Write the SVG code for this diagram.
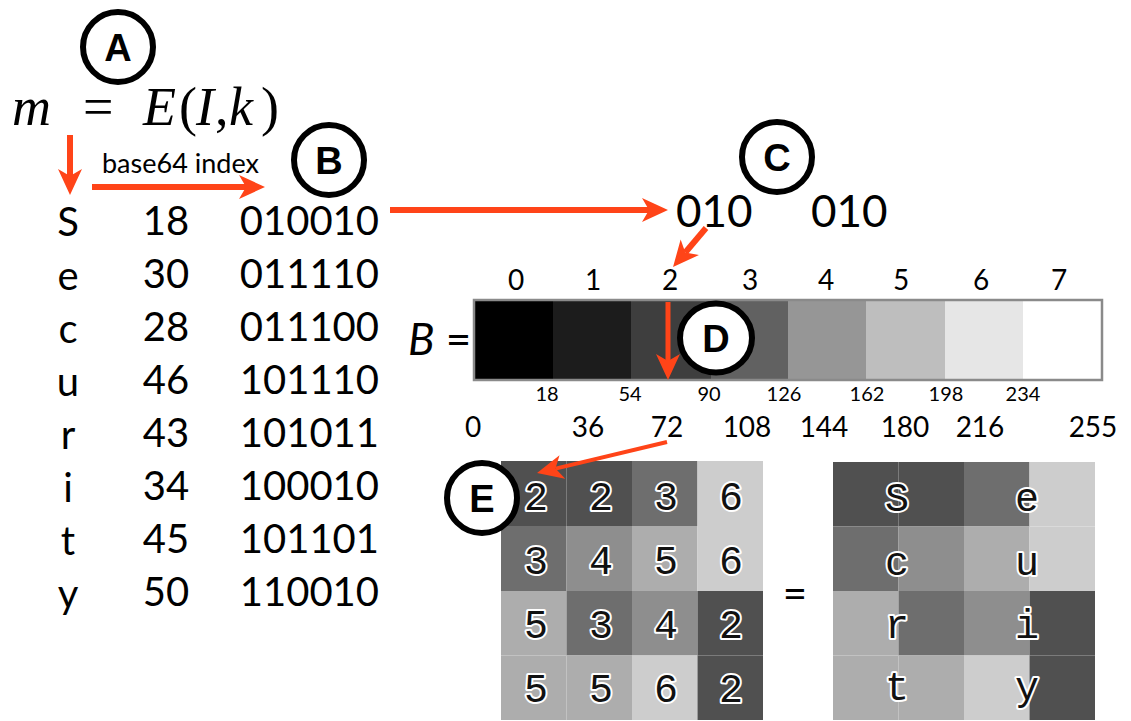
<svg xmlns="http://www.w3.org/2000/svg" width="1131" height="721" viewBox="0 0 1131 721">
  <style>
    .gs { font-family: Lato, "Liberation Sans", sans-serif; fill: #000; }
    .tbl { font-size: 40px; }
    .bits { font-size: 40px; text-anchor: end; }
    .idx { font-size: 28px; text-anchor: middle; }
    .sm { font-size: 20px; text-anchor: middle; }
    .math { font-family: "Liberation Serif", "Times New Roman", serif; font-size: 54px; fill: #000; }
    .it { font-style: italic; }
    .mono { font-family: "Liberation Mono", "Courier New", monospace; font-size: 40px; fill: #111; stroke: #fff; stroke-width: 4px; paint-order: stroke; stroke-linejoin: round; text-anchor: middle; }
    .ring { fill: #fff; stroke: #000; stroke-width: 6px; }
    .tag { font-family: "Liberation Sans", Arial, sans-serif; font-weight: bold; font-size: 38px; text-anchor: middle; fill: #000; }
    .arrow { stroke: #ff4418; fill: none; marker-end: url(#head); }
    .g2 { fill: #505050; } .g3 { fill: #6e6e6e; } .g4 { fill: #8e8e8e; } .g5 { fill: #adadad; } .g6 { fill: #cdcdcd; }
  </style>
  <defs>
    <marker id="head" viewBox="0 0 26 26" refX="7" refY="13" markerWidth="26" markerHeight="26" markerUnits="userSpaceOnUse" orient="auto">
      <path d="M0,1 L26,13 L0,25 L7,13 z" fill="#ff4418"/>
    </marker>
  </defs>
  <rect width="1131" height="721" fill="#fff"/>

  <!-- m = E(I, k) -->
  <g id="formula">
    <text class="math" y="125"><tspan class="it" x="12">m</tspan><tspan x="83">=</tspan><tspan class="it" x="143">E</tspan><tspan x="179">(</tspan><tspan class="it" x="196">I</tspan><tspan x="215">,</tspan><tspan class="it" x="229">k</tspan><tspan x="261">)</tspan></text>
  </g>

  <!-- plaintext letters, base64 indices, 6-bit codes -->
  <g id="table" class="gs">
    <g id="letters" class="tbl" text-anchor="middle">
      <text x="68" y="236">S</text>
      <text x="68" y="290">e</text>
      <text x="68" y="343">c</text>
      <text x="68" y="396">u</text>
      <text x="68" y="449">r</text>
      <text x="68" y="502">i</text>
      <text x="68" y="555">t</text>
      <text x="68" y="608">y</text>
    </g>
    <g id="indices" class="tbl" text-anchor="middle">
      <text x="166" y="235">18</text>
      <text x="166" y="288">30</text>
      <text x="166" y="341">28</text>
      <text x="166" y="394">46</text>
      <text x="166" y="447">43</text>
      <text x="166" y="500">34</text>
      <text x="166" y="553">45</text>
      <text x="166" y="606">50</text>
    </g>
    <g id="codes" class="bits">
      <text x="379" y="235">010010</text>
      <text x="379" y="288">011110</text>
      <text x="379" y="341">011100</text>
      <text x="379" y="394">101110</text>
      <text x="379" y="447">101011</text>
      <text x="379" y="500">100010</text>
      <text x="379" y="553">101101</text>
      <text x="379" y="606">110010</text>
    </g>
    <text x="102" y="173" font-size="27">base64 index</text>
  </g>

  <!-- code split into 3-bit groups -->
  <g id="split" class="gs" font-size="44">
    <text x="676" y="227">010</text>
    <text x="811" y="227">010</text>
  </g>

  <!-- palette B -->
  <g id="palette">
    <text class="gs" x="408" y="355" font-size="44"><tspan font-style="italic">B</tspan> =</text>
    <rect x="474" y="300" width="79" height="80" fill="#000"/>
    <rect x="553" y="300" width="78" height="80" fill="#1c1c1c"/>
    <rect x="631" y="300" width="80" height="80" fill="#3e3e3e"/>
    <rect x="711" y="300" width="77" height="80" fill="#616161"/>
    <rect x="788" y="300" width="78" height="80" fill="#969696"/>
    <rect x="866" y="300" width="79" height="80" fill="#bebebe"/>
    <rect x="945" y="300" width="78" height="80" fill="#e6e6e6"/>
    <rect x="1023" y="300" width="79" height="80" fill="#ffffff"/>
    <rect x="474" y="300" width="628" height="80" fill="none" stroke="#8a8a8a" stroke-width="2.5"/>
    <g class="gs idx">
      <text x="516" y="290">0</text>
      <text x="593" y="290">1</text>
      <text x="670" y="290">2</text>
      <text x="750" y="290">3</text>
      <text x="826" y="290">4</text>
      <text x="901" y="290">5</text>
      <text x="981" y="290">6</text>
      <text x="1059" y="290">7</text>
    </g>
    <g class="gs sm">
      <text x="547" y="401">18</text>
      <text x="630" y="401">54</text>
      <text x="709" y="401">90</text>
      <text x="784" y="401">126</text>
      <text x="867" y="401">162</text>
      <text x="946" y="401">198</text>
      <text x="1023" y="401">234</text>
    </g>
    <g class="gs idx">
      <text x="473" y="437">0</text>
      <text x="588" y="437">36</text>
      <text x="667" y="437">72</text>
      <text x="747" y="437">108</text>
      <text x="824" y="437">144</text>
      <text x="905" y="437">180</text>
      <text x="980" y="437">216</text>
      <text x="1093" y="437">255</text>
    </g>
  </g>

  <!-- palette index grid -->
  <g id="index-grid">
    <rect class="g2" x="501" y="461" width="65.5" height="65"/>
    <rect class="g2" x="566.5" y="461" width="65.5" height="65"/>
    <rect class="g3" x="632" y="461" width="65.5" height="65"/>
    <rect class="g6" x="697.5" y="461" width="65.5" height="65"/>
    <rect class="g3" x="501" y="526" width="65.5" height="65"/>
    <rect class="g4" x="566.5" y="526" width="65.5" height="65"/>
    <rect class="g5" x="632" y="526" width="65.5" height="65"/>
    <rect class="g6" x="697.5" y="526" width="65.5" height="65"/>
    <rect class="g5" x="501" y="591" width="65.5" height="64.5"/>
    <rect class="g3" x="566.5" y="591" width="65.5" height="64.5"/>
    <rect class="g4" x="632" y="591" width="65.5" height="64.5"/>
    <rect class="g2" x="697.5" y="591" width="65.5" height="64.5"/>
    <rect class="g5" x="501" y="655.5" width="65.5" height="64.5"/>
    <rect class="g5" x="566.5" y="655.5" width="65.5" height="64.5"/>
    <rect class="g6" x="632" y="655.5" width="65.5" height="64.5"/>
    <rect class="g2" x="697.5" y="655.5" width="65.5" height="64.5"/>
    <text class="mono" x="536" y="510">2</text>
    <text class="mono" x="601" y="510">2</text>
    <text class="mono" x="666" y="510">3</text>
    <text class="mono" x="731" y="510">6</text>
    <text class="mono" x="536" y="574">3</text>
    <text class="mono" x="601" y="574">4</text>
    <text class="mono" x="666" y="574">5</text>
    <text class="mono" x="731" y="574">6</text>
    <text class="mono" x="536" y="638">5</text>
    <text class="mono" x="601" y="638">3</text>
    <text class="mono" x="666" y="638">4</text>
    <text class="mono" x="731" y="638">2</text>
    <text class="mono" x="536" y="702">5</text>
    <text class="mono" x="601" y="702">5</text>
    <text class="mono" x="666" y="702">6</text>
    <text class="mono" x="731" y="702">2</text>
  </g>

  <text class="gs" x="795" y="608" font-size="42" text-anchor="middle">=</text>

  <!-- image carrying the message -->
  <g id="stego-grid">
    <rect class="g2" x="833" y="462" width="65.5" height="64.5"/>
    <rect class="g2" x="898.5" y="462" width="65.5" height="64.5"/>
    <rect class="g3" x="964" y="462" width="65.5" height="64.5"/>
    <rect class="g6" x="1029.5" y="462" width="65.5" height="64.5"/>
    <rect class="g3" x="833" y="526.5" width="65.5" height="64.5"/>
    <rect class="g4" x="898.5" y="526.5" width="65.5" height="64.5"/>
    <rect class="g5" x="964" y="526.5" width="65.5" height="64.5"/>
    <rect class="g6" x="1029.5" y="526.5" width="65.5" height="64.5"/>
    <rect class="g5" x="833" y="591" width="65.5" height="64.5"/>
    <rect class="g3" x="898.5" y="591" width="65.5" height="64.5"/>
    <rect class="g4" x="964" y="591" width="65.5" height="64.5"/>
    <rect class="g2" x="1029.5" y="591" width="65.5" height="64.5"/>
    <rect class="g5" x="833" y="655.5" width="65.5" height="64.5"/>
    <rect class="g5" x="898.5" y="655.5" width="65.5" height="64.5"/>
    <rect class="g6" x="964" y="655.5" width="65.5" height="64.5"/>
    <rect class="g2" x="1029.5" y="655.5" width="65.5" height="64.5"/>
    <text class="mono" x="897" y="511">S</text>
    <text class="mono" x="1027" y="511">e</text>
    <text class="mono" x="897" y="575">c</text>
    <text class="mono" x="1027" y="575">u</text>
    <text class="mono" x="897" y="638">r</text>
    <text class="mono" x="1027" y="638">i</text>
    <text class="mono" x="897" y="700">t</text>
    <text class="mono" x="1027" y="700">y</text>
  </g>

  <!-- connectors -->
  <g id="connectors">
    <line class="arrow" x1="70" y1="135" x2="70" y2="176" stroke-width="6"/>
    <line class="arrow" x1="92" y1="187" x2="246" y2="187" stroke-width="6"/>
    <line class="arrow" x1="390" y1="210" x2="649" y2="210" stroke-width="6"/>
    <line class="arrow" x1="706" y1="228" x2="685.3" y2="252.5" stroke-width="6"/>
    <line class="arrow" x1="668" y1="302" x2="668" y2="361" stroke-width="5"/>
    <line class="arrow" x1="667" y1="442" x2="555.5" y2="468.6" stroke-width="4"/>
  </g>

  <!-- step markers -->
  <g id="step-A"><circle class="ring" cx="118" cy="47" r="35"/><text class="tag" x="118" y="61">A</text></g>
  <g id="step-B"><circle class="ring" cx="329" cy="160" r="35"/><text class="tag" x="329" y="174">B</text></g>
  <g id="step-C"><circle class="ring" cx="777" cy="157" r="35"/><text class="tag" x="777" y="171">C</text></g>
  <g id="step-D"><ellipse class="ring" cx="716" cy="338" rx="36" ry="34.5"/><text class="tag" x="716" y="352">D</text></g>
  <g id="step-E"><circle class="ring" cx="482" cy="498" r="35"/><text class="tag" x="482" y="512">E</text></g>
</svg>
